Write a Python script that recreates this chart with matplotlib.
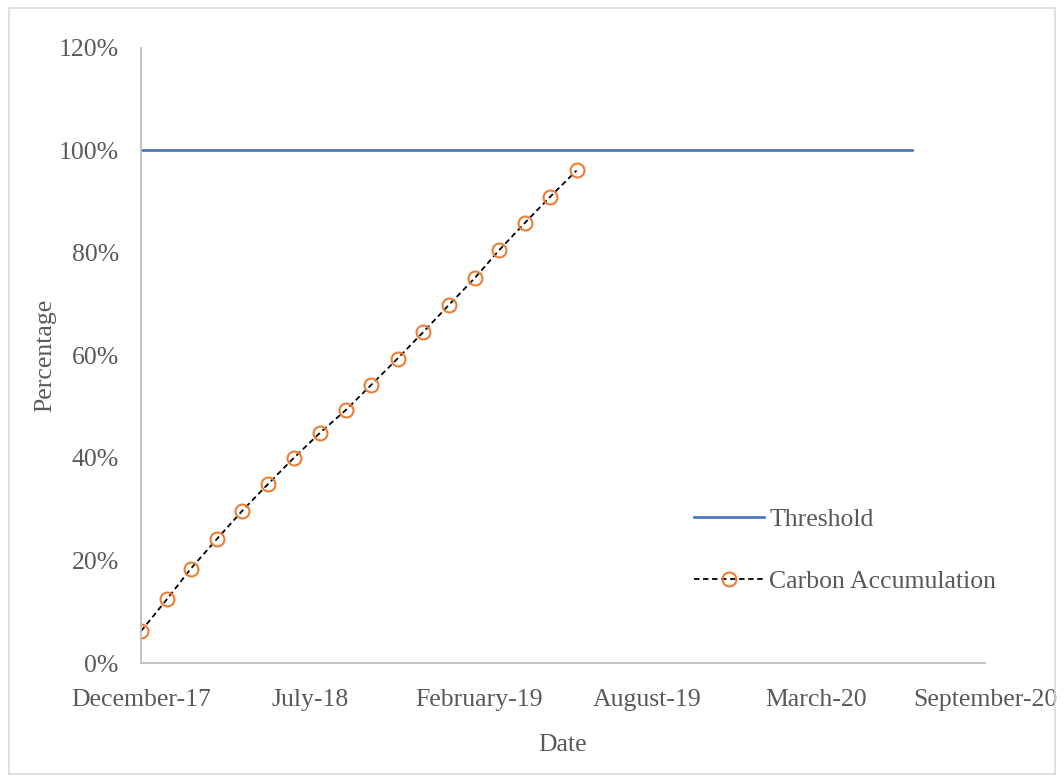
import numpy as np
import pandas as pd
import matplotlib
matplotlib.use("Agg")
import matplotlib.pyplot as plt
import matplotlib.dates as mdates
from matplotlib.ticker import FuncFormatter

plt.rcParams["font.family"] = ["Liberation Serif", "DejaVu Serif"]

# carbon accumulation, monthly
carbon_dates = pd.to_datetime([
    "2017-12-31", "2018-01-31", "2018-02-28", "2018-03-31", "2018-04-30",
    "2018-05-31", "2018-06-30", "2018-07-31", "2018-08-31", "2018-09-30",
    "2018-10-31", "2018-11-30", "2018-12-31", "2019-01-31", "2019-02-28",
    "2019-03-31", "2019-04-30", "2019-05-31",
])
carbon_pct = [6.2, 12.5, 18.4, 24.2, 29.7, 35.0, 40.0, 44.9, 49.4, 54.3,
              59.4, 64.5, 69.9, 75.2, 80.5, 85.9, 91.0, 96.1]

threshold_dates = pd.to_datetime(["2017-12-31", "2020-07-01"])
threshold_pct = [100, 100]

x_start = pd.Timestamp("2017-12-31")
x_end = pd.Timestamp("2020-09-26")
tick_dates = [x_start + pd.Timedelta(days=200 * k) for k in range(6)]

text_col = "#595959"
axis_col = "#bfbfbf"
fs = 18.5

fig = plt.figure(figsize=(10.64, 7.8), dpi=100)
ax = fig.add_axes([0.1325, 0.15, 0.7933, 0.7885])

ax.plot(threshold_dates, threshold_pct, color="#4472C4", lw=1.9,
        label="Threshold")
ax.plot(carbon_dates, carbon_pct, color="black", lw=1.3, ls=(0, (3, 2)),
        marker="o", ms=10, mfc="none", mec="#ED7D31", mew=1.5,
        label="Carbon Accumulation")

ax.set_xlim(x_start, x_end)
ax.set_ylim(0, 120)
ax.set_yticks(range(0, 121, 20))
ax.yaxis.set_major_formatter(FuncFormatter(lambda v, p: f"{v:.0f}%"))
ax.set_xticks(tick_dates)
ax.xaxis.set_major_formatter(mdates.DateFormatter("%B-%y"))

for s in ["top", "right"]:
    ax.spines[s].set_visible(False)
for s in ["left", "bottom"]:
    ax.spines[s].set_color(axis_col)
    ax.spines[s].set_linewidth(1.3)
ax.tick_params(length=0, labelsize=fs, labelcolor=text_col)
ax.tick_params(axis="x", pad=19)
ax.tick_params(axis="y", pad=16)

ax.set_xlabel("Date", fontsize=fs, color=text_col, labelpad=16)
ax.set_ylabel("Percentage", fontsize=fs, color=text_col, labelpad=2)

leg = ax.legend(loc="center left", bbox_to_anchor=(0.628, 0.183),
                frameon=False, fontsize=fs, labelcolor=text_col,
                labelspacing=1.53, handlelength=2.7, handletextpad=0.23)

# light frame around the whole chart
fig.patches.append(plt.Rectangle((0.008, 0.008), 0.984, 0.982,
                                 transform=fig.transFigure, fill=False,
                                 edgecolor="#d9d9d9", lw=1.2))

fig.savefig("out.png", dpi=100)
